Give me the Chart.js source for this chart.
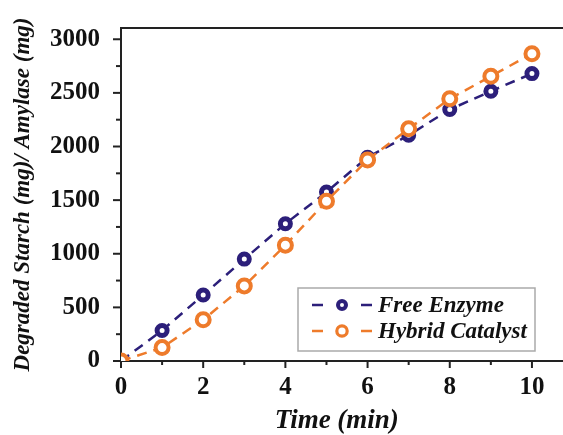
<!DOCTYPE html>
<html>
<head>
<meta charset="utf-8">
<script src="https://cdn.jsdelivr.net/npm/chart.js@4.4.0/dist/chart.umd.min.js"></script>
<style>
  html, body { margin: 0; padding: 0; background: #fff; }
  #wrap { width: 563px; height: 435px; }
</style>
</head>
<body>
<div id="wrap"><canvas id="enzymeChart" width="563" height="435"></canvas></div>
<script>
const times = [0, 1, 2, 3, 4, 5, 6, 7, 8, 9, 10];
const freeEnzyme = [0, 285, 615, 950, 1280, 1575, 1900, 2105, 2345, 2515, 2680];
const hybridCatalyst = [0, 125, 385, 700, 1080, 1490, 1875, 2165, 2445, 2655, 2865];
const xTicks = [0, 2, 4, 6, 8, 10];
const yTicks = [0, 500, 1000, 1500, 2000, 2500, 3000];
const seriesNames = ["Free Enzyme", "Hybrid Catalyst"];

const navy = "#2c1f7a";
const orange = "#ee7b2b";
const serif = "'Liberation Serif', 'Times New Roman', serif";

const toPoints = (vals) => times.map((t, i) => ({ x: t, y: vals[i] }));

// minor/major tick marks, top frame line and the boxed legend
const framePlugin = {
    id: "frame",
    afterDraw(chart) {
        const ctx = chart.ctx;
        const area = chart.chartArea;
        const xs = chart.scales.x;
        const ys = chart.scales.y;
        ctx.save();
        ctx.strokeStyle = "#222";
        ctx.lineWidth = 2;
        ctx.beginPath();
        ctx.moveTo(area.left, area.top);
        ctx.lineTo(chart.width, area.top);
        ctx.moveTo(area.right, area.bottom);
        ctx.lineTo(chart.width, area.bottom);
        ctx.stroke();

        for (let v = 0; v <= 10; v++) {
            const px = xs.getPixelForValue(v);
            const len = v % 2 === 0 ? 7 : 4;
            ctx.beginPath();
            ctx.moveTo(px, area.bottom);
            ctx.lineTo(px, area.bottom + len);
            ctx.stroke();
        }
        for (let v = 0; v <= 3000; v += 250) {
            const py = ys.getPixelForValue(v);
            const len = v % 500 === 0 ? 8 : 5;
            ctx.beginPath();
            ctx.moveTo(area.left, py);
            ctx.lineTo(area.left - len, py);
            ctx.stroke();
        }

        // legend box
        const bx = 298, by = 288, bw = 237, bh = 63;
        ctx.fillStyle = "#fff";
        ctx.fillRect(bx, by, bw, bh);
        ctx.strokeStyle = "#aaa";
        ctx.lineWidth = 1.5;
        ctx.strokeRect(bx, by, bw, bh);
        chart.data.datasets.forEach((ds, i) => {
            const rowY = by + 17 + i * 26;
            ctx.strokeStyle = ds.borderColor;
            ctx.lineWidth = 2.5;
            ctx.beginPath();
            ctx.moveTo(312, rowY); ctx.lineTo(323, rowY);
            ctx.moveTo(361, rowY); ctx.lineTo(372, rowY);
            ctx.stroke();
            ctx.lineWidth = ds.pointBorderWidth * 0.8;
            ctx.beginPath();
            ctx.arc(342, rowY, ds.pointRadius * 0.8, 0, Math.PI * 2);
            ctx.stroke();
            ctx.fillStyle = "#111";
            ctx.font = "italic bold 23px " + serif;
            ctx.textBaseline = "middle";
            ctx.fillText(ds.label, 378, rowY + 1);
        });
        ctx.restore();
    },
};

new Chart(document.getElementById("enzymeChart").getContext("2d"), {
    type: "line",
    data: {
        datasets: [
            {
                label: seriesNames[0],
                data: toPoints(freeEnzyme),
                borderColor: navy,
                borderWidth: 2.5,
                borderDash: [10, 7],
                pointRadius: 5,
                pointBorderWidth: 5,
                pointBackgroundColor: "#fff",
                pointBorderColor: navy,
                order: 1,
            },
            {
                label: seriesNames[1],
                data: toPoints(hybridCatalyst),
                borderColor: orange,
                borderWidth: 2.5,
                borderDash: [10, 7],
                pointRadius: 6.5,
                pointBorderWidth: 4,
                pointBackgroundColor: "#fff",
                pointBorderColor: orange,
                order: 0,
            },
        ],
    },
    options: {
        responsive: false,
        animation: false,
        layout: { padding: { top: 10, right: 0, left: 0, bottom: 0 } },
        plugins: { legend: { display: false }, tooltip: { enabled: false } },
        scales: {
            x: {
                type: "linear",
                min: 0,
                max: 10.5,
                afterBuildTicks: (scale) => {
                    scale.ticks = xTicks.map((v) => ({ value: v }));
                },
                afterFit: (scale) => { scale.height = 74; },
                grid: { display: false, tickLength: 0 },
                border: { display: true, color: "#222", width: 2 },
                ticks: {
                    color: "#111",
                    padding: 12,
                    maxRotation: 0,
                    font: { family: serif, size: 25, weight: "bold" },
                },
                title: {
                    display: true,
                    text: "Time (min)",
                    color: "#111",
                    padding: { top: 0, bottom: 0 },
                    font: { family: serif, size: 27, weight: "bold", style: "italic", lineHeight: 1 },
                },
            },
            y: {
                min: 0,
                max: 3105,
                afterBuildTicks: (scale) => {
                    scale.ticks = yTicks.map((v) => ({ value: v }));
                },
                afterFit: (scale) => { scale.width = 121; },
                grid: { display: false },
                border: { display: true, color: "#222", width: 2 },
                ticks: {
                    color: "#111",
                    padding: 13,
                    callback: (v) => String(v),
                    font: { family: serif, size: 25, weight: "bold" },
                },
                title: {
                    display: true,
                    text: "Degraded Starch (mg)/ Amylase (mg)",
                    color: "#111",
                    padding: { top: 9, bottom: 0 },
                    font: { family: serif, size: 23, weight: "bold", style: "italic" },
                },
            },
        },
    },
    plugins: [framePlugin],
});
</script>
</body>
</html>
